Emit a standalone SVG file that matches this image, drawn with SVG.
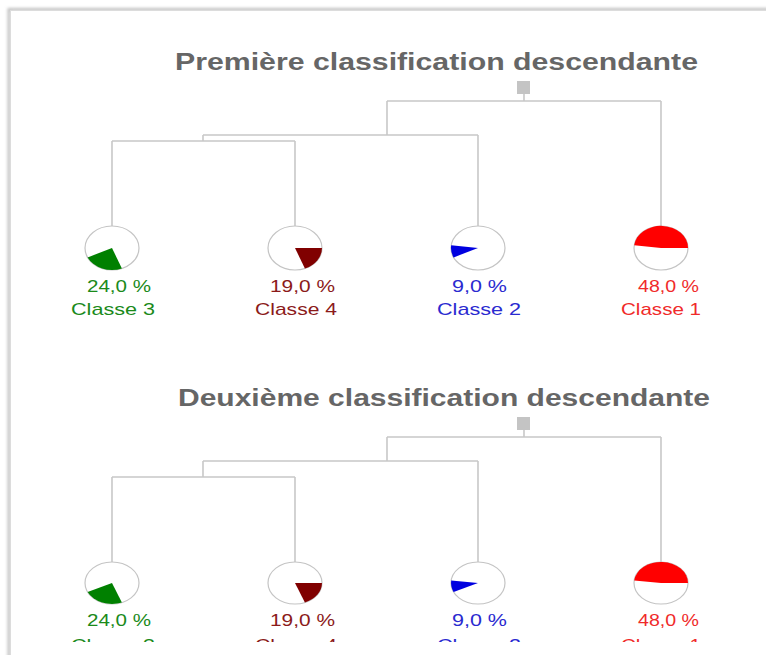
<svg xmlns="http://www.w3.org/2000/svg" width="766" height="655" viewBox="0 0 766 655">
<defs>
<style>
.title{font-family:"Liberation Sans",Arial,sans-serif;font-weight:bold;font-size:23px;fill:#666666}
.lbl{font-family:"Liberation Sans",Arial,sans-serif;font-size:17px}
.edge{stroke:#c8c8c8;stroke-width:1.6;fill:none}
.ring{fill:#ffffff;stroke:#c4c4c4;stroke-width:1.2}
.root{fill:#c4c4c4}
.c3{fill:#008000}
.c4{fill:#800000}
.c2{fill:#0000e0}
.c1{fill:#ff0000}
.t3{fill:#1a8a1a}
.t4{fill:#8b1a1a}
.t2{fill:#2a2ad0}
.t1{fill:#f02a2a}
</style>
<filter id="sh" x="-5%" y="-5%" width="110%" height="110%">
<feGaussianBlur stdDeviation="1.5"/>
</filter>
<clipPath id="clip"><rect x="0" y="0" width="766" height="642"/></clipPath>
</defs>
<rect x="0" y="0" width="766" height="655" fill="#ffffff"/>
<g id="card">
<rect x="9" y="9.5" width="800" height="700" fill="none" stroke="#c0c0c0" stroke-width="3" filter="url(#sh)"/>
<rect x="10.5" y="10.5" width="800" height="700" fill="#ffffff" stroke="#dcdcdc" stroke-width="1"/>
</g>

<g id="diagram1">
<text class="title" x="175" y="70" textLength="523" lengthAdjust="spacingAndGlyphs">Première classification descendante</text>
<g id="connectors1">
<rect class="root" x="517" y="81" width="13" height="13"/>
<path class="edge" d="M524,94 V101 M387,101 H661 M661,101 V226 M387,101 V135 M203,135 H478 M478,135 V226 M203,135 V141 M112,141 H295 M112,141 V226 M295,141 V226"/>
</g>
<g id="n1-classe3">
<ellipse class="ring" cx="112" cy="248" rx="27" ry="22"/>
<path class="c3" d="M112,248 L121.9,268.5 A27,22 0 0 1 87.6,257.4 Z"/>
<text class="lbl t3" x="87" y="291.5" textLength="64" lengthAdjust="spacingAndGlyphs">24,0 %</text>
<text class="lbl t3" x="71" y="315" textLength="84" lengthAdjust="spacingAndGlyphs">Classe 3</text>
</g>
<g id="n1-classe4">
<ellipse class="ring" cx="295" cy="248" rx="27" ry="22"/>
<path class="c4" d="M295,248 L322,248 A27,22 0 0 1 304.9,268.5 Z"/>
<text class="lbl t4" x="270" y="291.5" textLength="65" lengthAdjust="spacingAndGlyphs">19,0 %</text>
<text class="lbl t4" x="255" y="315" textLength="82" lengthAdjust="spacingAndGlyphs">Classe 4</text>
</g>
<g id="n1-classe2">
<ellipse class="ring" cx="478" cy="248" rx="27" ry="22"/>
<path class="c2" d="M478,248 L453.6,257.4 A27,22 0 0 1 451.2,245.2 Z"/>
<text class="lbl t2" x="452" y="291.5" textLength="55" lengthAdjust="spacingAndGlyphs">9,0 %</text>
<text class="lbl t2" x="437" y="315" textLength="84" lengthAdjust="spacingAndGlyphs">Classe 2</text>
</g>
<g id="n1-classe1">
<ellipse class="ring" cx="661" cy="248" rx="27" ry="22"/>
<path class="c1" d="M661,248 L634.2,245.2 A27,22 0 0 1 688,248 Z"/>
<text class="lbl t1" x="638" y="291.5" textLength="61" lengthAdjust="spacingAndGlyphs">48,0 %</text>
<text class="lbl t1" x="621" y="315" textLength="80" lengthAdjust="spacingAndGlyphs">Classe 1</text>
</g>
</g>

<g id="diagram2" clip-path="url(#clip)">
<text class="title" x="178" y="406" textLength="532" lengthAdjust="spacingAndGlyphs">Deuxième classification descendante</text>
<g id="connectors2">
<rect class="root" x="517" y="417" width="13" height="13"/>
<path class="edge" d="M524,430 V437 M387,437 H661 M661,437 V562 M387,437 V461 M203,461 H478 M478,461 V562 M203,461 V477 M112,477 H295 M112,477 V562 M295,477 V562"/>
</g>
<g id="n2-classe3">
<ellipse class="ring" cx="112" cy="583" rx="27" ry="21"/>
<path class="c3" d="M112,583 L121.9,602.5 A27,21 0 0 1 87.6,591.9 Z"/>
<text class="lbl t3" x="87" y="625.5" textLength="64" lengthAdjust="spacingAndGlyphs">24,0 %</text>
<text class="lbl t3" x="71" y="651" textLength="84" lengthAdjust="spacingAndGlyphs">Classe 3</text>
</g>
<g id="n2-classe4">
<ellipse class="ring" cx="295" cy="583" rx="27" ry="21"/>
<path class="c4" d="M295,583 L322,583 A27,21 0 0 1 304.9,602.5 Z"/>
<text class="lbl t4" x="270" y="625.5" textLength="65" lengthAdjust="spacingAndGlyphs">19,0 %</text>
<text class="lbl t4" x="255" y="651" textLength="82" lengthAdjust="spacingAndGlyphs">Classe 4</text>
</g>
<g id="n2-classe2">
<ellipse class="ring" cx="478" cy="583" rx="27" ry="21"/>
<path class="c2" d="M478,583 L453.6,591.9 A27,21 0 0 1 451.2,580.4 Z"/>
<text class="lbl t2" x="452" y="625.5" textLength="55" lengthAdjust="spacingAndGlyphs">9,0 %</text>
<text class="lbl t2" x="437" y="651" textLength="84" lengthAdjust="spacingAndGlyphs">Classe 2</text>
</g>
<g id="n2-classe1">
<ellipse class="ring" cx="661" cy="583" rx="27" ry="21"/>
<path class="c1" d="M661,583 L634.2,580.4 A27,21 0 0 1 688,583 Z"/>
<text class="lbl t1" x="638" y="625.5" textLength="61" lengthAdjust="spacingAndGlyphs">48,0 %</text>
<text class="lbl t1" x="621" y="651" textLength="80" lengthAdjust="spacingAndGlyphs">Classe 1</text>
</g>
</g>
</svg>
